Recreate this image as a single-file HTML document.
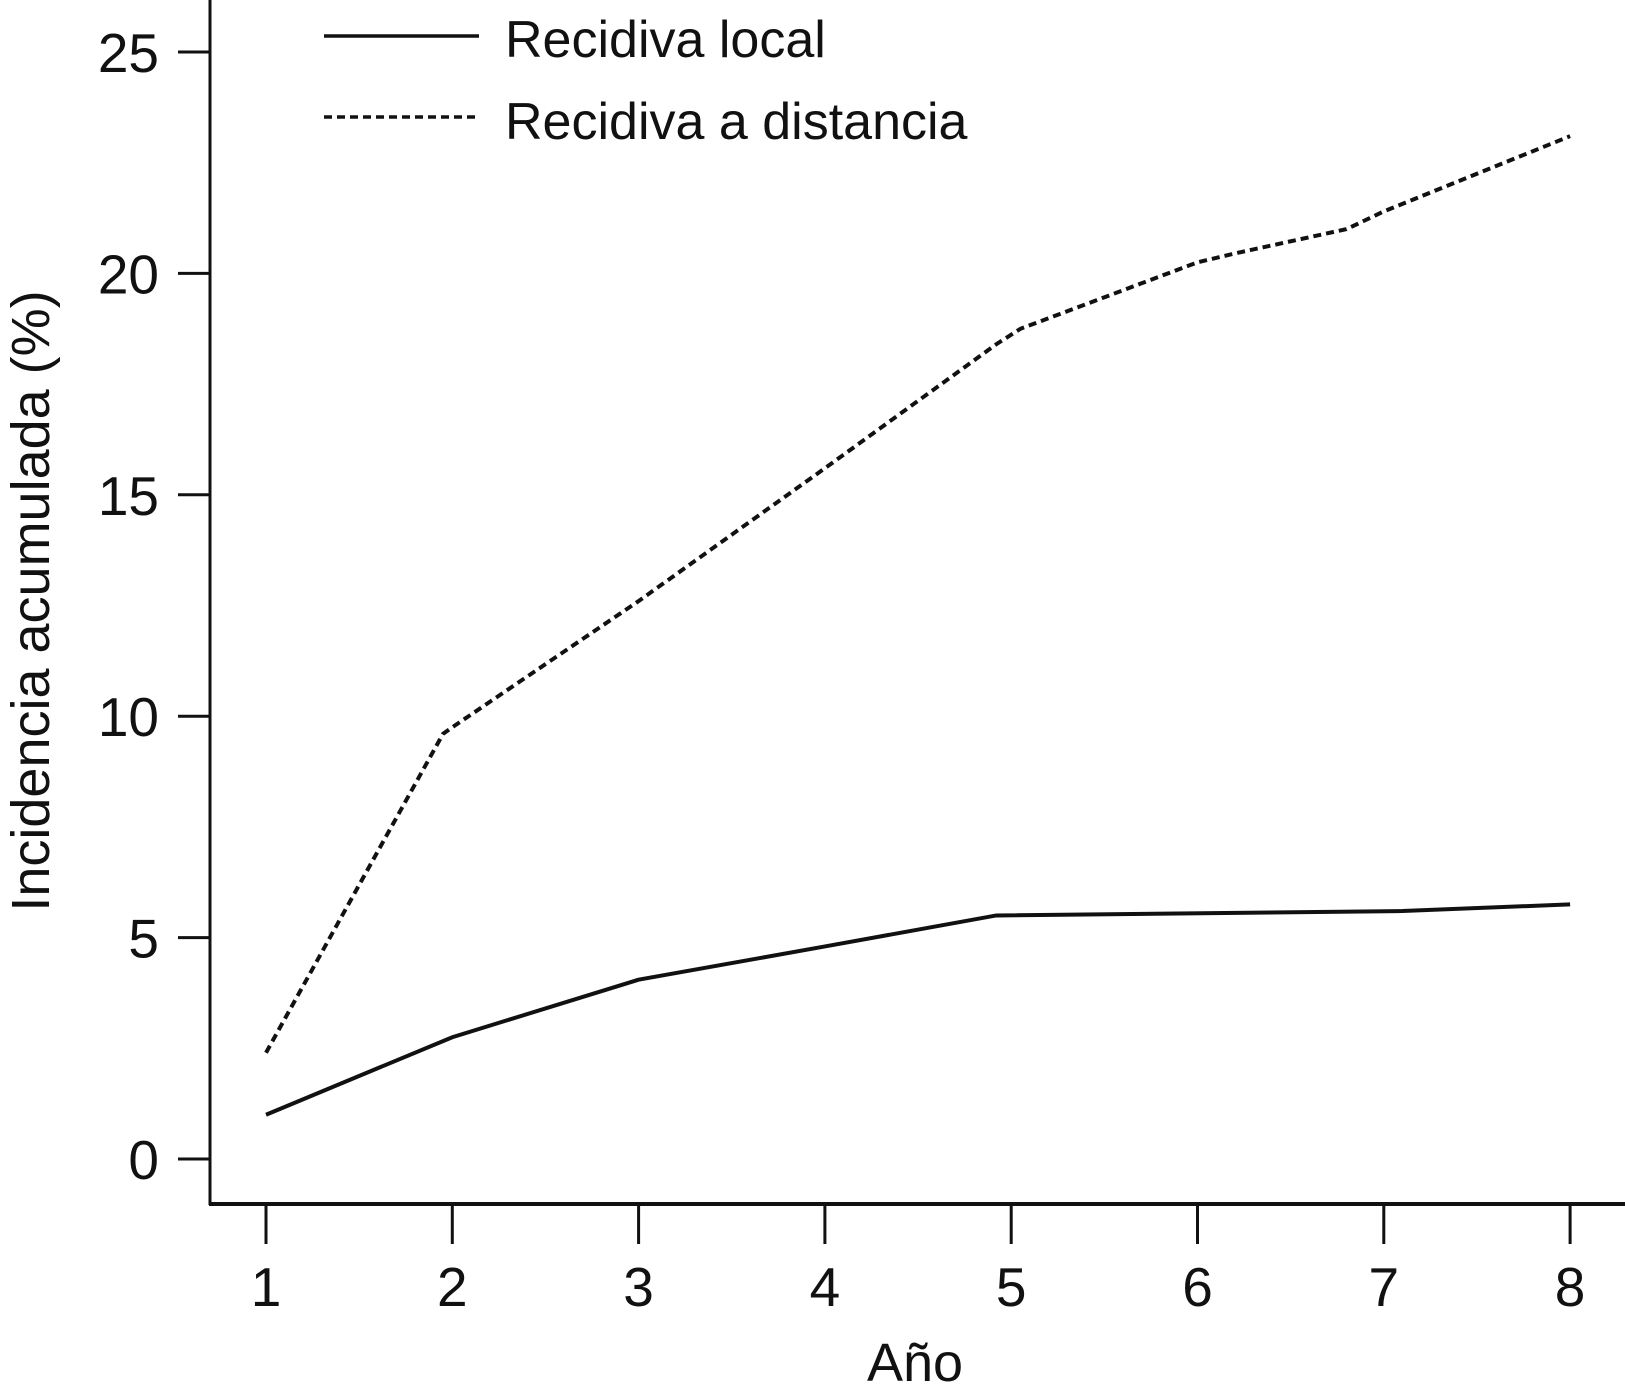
<!DOCTYPE html>
<html><head><meta charset="utf-8"><style>
html,body{margin:0;padding:0;background:#fff;}
svg{display:block;font-family:"Liberation Sans",sans-serif;}
</style></head><body>
<svg id="chart" width="1625" height="1397" viewBox="0 0 1625 1397">
<g id="axes"></g><g id="series"></g>
<g>
<line x1="324" y1="36" x2="479" y2="36" stroke="#111" stroke-width="3.5"/>
<text x="505" y="57" font-size="52" fill="#111">Recidiva local</text>
<line x1="324" y1="117" x2="479" y2="117" stroke="#111" stroke-width="3.5" stroke-dasharray="8,5"/>
<text x="505" y="139" font-size="52" fill="#111">Recidiva a distancia</text>
</g>
<text x="915" y="1381" font-size="54" text-anchor="middle" fill="#111">Año</text>
<text transform="translate(49,601) rotate(-90)" font-size="54" text-anchor="middle" fill="#111">Incidencia acumulada (%)</text>
</svg>
<script>
const xTicks=[1,2,3,4,5,6,7,8];
const yTicks=[0,5,10,15,20,25];
const localX=[1,2,3,4,4.92,7.1,8];
const localY=[1.0,2.75,4.05,4.8,5.5,5.6,5.75];
const distX=[1,1.95,2,3,4,4.92,5.05,6,6.2,6.8,7,8];
const distY=[2.4,9.6,9.75,12.6,15.6,18.4,18.75,20.25,20.45,21.0,21.4,23.1];
const sx=v=>266+(v-1)*186.3;
const sy=v=>1159-v*44.28;
const NS="http://www.w3.org/2000/svg";
const axes=document.getElementById('axes'),series=document.getElementById('series');
function mk(tag,attrs,parent){const e=document.createElementNS(NS,tag);for(const k in attrs)e.setAttribute(k,attrs[k]);parent.appendChild(e);return e;}
let yl=mk('line',{x1:210,y1:0,x2:210,y2:1205,stroke:'#111','stroke-width':3},axes);


let xl=mk('line',{x1:209,y1:1204,x2:1625,y2:1204,stroke:'#111','stroke-width':4},axes);


xTicks.forEach(v=>{
 let t=mk('line',{x1:sx(v),y1:1204,x2:sx(v),y2:1244,stroke:'#111','stroke-width':3},axes);
 
 
 let l=mk('text',{x:sx(v),y:1306,'font-size':55,'text-anchor':'middle',fill:'#111'},axes);
 l.textContent=v;
 
 
});
yTicks.forEach(v=>{
 let t=mk('line',{x1:178,y1:sy(v),x2:210,y2:sy(v),stroke:'#111','stroke-width':3},axes);
 
 
 let l=mk('text',{x:159,y:sy(v)+20,'font-size':55,'text-anchor':'end',fill:'#111'},axes);
 l.textContent=v;
 
 
});
function pts(xs,ys){return xs.map((x,i)=>sx(x)+','+sy(ys[i])).join(' ');}
let p1=mk('polyline',{points:pts(localX,localY),fill:'none',stroke:'#111','stroke-width':4},series);


let p2=mk('polyline',{points:pts(distX,distY),fill:'none',stroke:'#111','stroke-width':4,'stroke-dasharray':'8,5'},series);


</script>
</body></html>
